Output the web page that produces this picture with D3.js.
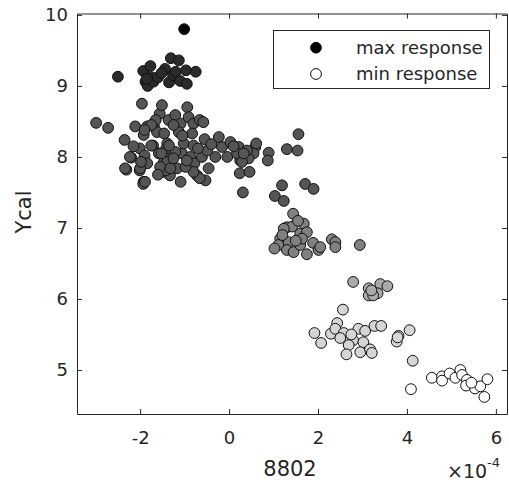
<!doctype html>
<html lang="en">
<head>
<meta charset="utf-8">
<title>Ycal vs 8802</title>
<script src="https://cdn.jsdelivr.net/npm/d3@7"></script>
<style>
  body { margin: 0; background: #fff; }
  text { font-family: "DejaVu Sans", sans-serif; fill: #262626; }
</style>
</head>
<body>
<svg id="chart" width="509" height="484"></svg>
<script>
// x values are in units of 1e-4 (the axis carries the x10^-4 multiplier)
// groups run from the max response (black) to the min response (white)
const maxGroup = [[-1.01, 9.80]];

const group1 = [
  [-2.50, 9.13], [-1.93, 9.21], [-1.88, 9.06], [-1.83, 9.00], [-1.77, 9.28],
  [-1.74, 9.12], [-1.70, 9.06], [-1.60, 9.12], [-1.44, 9.24], [-1.35, 9.05],
  [-1.31, 9.39], [-1.26, 9.15], [-1.20, 9.20], [-1.13, 9.36], [-1.10, 9.07],
  [-0.97, 9.22], [-0.95, 9.03], [-0.75, 9.20], [-1.52, 9.18], [-1.85, 9.10]
];

const group2 = [
  [-2.99, 8.48], [-2.72, 8.41], [-2.35, 8.24], [-2.11, 8.43], [-1.96, 8.75],
  [-2.20, 7.99], [-2.31, 7.82], [-2.01, 7.81], [-1.92, 7.65], [-1.93, 7.62],
  [-2.01, 8.12], [-1.92, 8.31], [-1.84, 8.43], [-1.69, 8.43], [-1.90, 8.02],
  [-1.84, 7.91], [-1.71, 8.16], [-1.56, 8.61], [-1.51, 8.73], [-1.62, 8.35],
  [-1.46, 8.33], [-1.58, 8.05], [-1.47, 7.92], [-1.48, 7.79], [-1.33, 7.74],
  [-1.47, 8.05], [-1.39, 8.19], [-1.36, 8.52], [-1.21, 8.59], [-1.09, 8.47],
  [-1.13, 8.35], [-1.17, 7.84], [-1.09, 7.65], [-1.06, 8.05], [-1.02, 8.19],
  [-0.94, 8.70], [-0.91, 8.56], [-0.80, 8.47], [-0.66, 8.52], [-0.58, 8.49],
  [-0.83, 8.33], [-0.80, 8.16], [-0.87, 8.00], [-0.78, 7.91], [-0.72, 7.74],
  [-0.61, 8.00], [-0.53, 7.67], [-0.46, 7.84], [-0.31, 8.00], [-0.23, 8.28],
  [-0.16, 8.14], [-0.04, 8.00], [0.03, 8.21], [0.22, 8.14], [0.25, 7.95],
  [0.24, 7.77], [0.46, 7.79], [0.31, 7.50], [0.59, 8.14], [0.55, 8.05],
  [0.44, 7.98], [0.40, 8.09], [-1.41, 8.12], [-1.21, 8.07], [-0.49, 8.09],
  [-0.66, 7.70], [-0.80, 7.79], [-1.43, 7.81], [-1.39, 7.93], [0.18, 8.05],
  [0.61, 8.19], [0.89, 8.06], [0.87, 7.95], [0.29, 7.93], [0.33, 8.05],
  [1.56, 8.32], [1.30, 8.11], [1.54, 8.09], [1.19, 7.60], [1.03, 7.45],
  [1.23, 7.38], [1.71, 7.62], [1.90, 7.55], [-2.23, 8.00], [-2.34, 7.84],
  [-2.00, 7.84], [-1.89, 7.65], [-1.98, 7.93], [-1.75, 8.16], [-1.52, 8.05],
  [-1.55, 7.86], [-1.35, 8.16], [-1.32, 7.84], [-1.25, 8.45], [-1.65, 8.52],
  [-1.05, 8.30], [-0.98, 7.86], [-1.25, 7.98], [-0.70, 8.12], [-0.55, 8.25],
  [-0.40, 8.18], [-1.75, 8.45], [-1.60, 7.75], [-0.95, 7.95], [0.10, 8.15],
  [-2.15, 8.15], [-1.90, 8.38]
];

const group3 = [
  [1.44, 7.20], [1.30, 7.01], [1.42, 7.02], [1.23, 6.99], [1.68, 7.06],
  [1.60, 6.92], [1.75, 6.94], [1.15, 6.85], [1.11, 6.76], [1.02, 6.71],
  [1.34, 6.80], [1.30, 6.69], [1.45, 6.66], [1.60, 6.76], [1.75, 6.63],
  [1.89, 6.79], [2.01, 6.69], [2.05, 6.73], [2.31, 6.84], [2.39, 6.80],
  [2.39, 6.73], [2.94, 6.76], [1.64, 6.85], [1.50, 6.82], [1.20, 6.90],
  [1.55, 7.10]
];

const group4 = [
  [2.79, 6.24], [3.14, 6.15], [3.14, 6.05], [3.40, 6.21], [3.56, 6.18],
  [3.34, 6.08], [3.24, 6.05], [3.20, 6.12]
];

const group5 = [
  [2.56, 5.85], [1.92, 5.52], [2.07, 5.38], [2.29, 5.51], [2.43, 5.66],
  [2.39, 5.58], [2.58, 5.52], [2.79, 5.42], [2.69, 5.35], [2.64, 5.22],
  [2.91, 5.58], [3.06, 5.55], [3.02, 5.39], [2.95, 5.25], [3.17, 5.29],
  [3.21, 5.24], [3.27, 5.62], [3.42, 5.62], [3.81, 5.48], [3.77, 5.40],
  [4.06, 5.56], [3.79, 5.46], [4.13, 5.13], [2.50, 5.45], [2.75, 5.50]
];

const minGroup = [
  [4.09, 4.73], [4.56, 4.89], [4.79, 4.91], [4.79, 4.85], [4.96, 4.95],
  [5.09, 4.89], [5.20, 5.00], [5.24, 4.93], [5.35, 4.86], [5.33, 4.78],
  [5.53, 4.74], [5.65, 4.77], [5.81, 4.87], [5.74, 4.62], [5.45, 4.82]
];

const groups = [maxGroup, group1, group2, group3, group4, group5, minGroup];
const xTicks = [-2, 0, 2, 4, 6];
const yTicks = [5, 6, 7, 8, 9, 10];
const legendLabels = ["max response", "min response"];
const xLabel = "8802";
const yLabel = "Ycal";

const svg = d3.select("#chart");
const ink = "#262626";

const x = d3.scaleLinear().domain([-3.42, 6.25]).range([77, 507]);
const y = d3.scaleLinear().domain([4.38, 10.02]).range([414, 13.5]);
const shade = d3.scaleLinear().domain([0, groups.length - 1]).range(["#000000", "#ffffff"]);

// box with inward ticks on all four sides
function styleAxis(g) {
  g.attr("color", ink).attr("font-size", 18).attr("font-family", "DejaVu Sans, sans-serif");
  g.selectAll("text").attr("fill", ink);
}
svg.append("g").attr("transform", `translate(0,${y.range()[0]})`)
  .call(d3.axisBottom(x).tickValues(xTicks).tickFormat(d => String(d)).tickSize(-5).tickSizeOuter(0).tickPadding(17))
  .call(styleAxis);
svg.append("g").attr("transform", `translate(0,${y.range()[1]})`)
  .call(d3.axisTop(x).tickValues(xTicks).tickFormat("").tickSize(-5).tickSizeOuter(0))
  .call(styleAxis);
svg.append("g").attr("transform", `translate(${x.range()[0]},0)`)
  .call(d3.axisLeft(y).tickValues(yTicks).tickFormat(d => String(d)).tickSize(-5).tickSizeOuter(0).tickPadding(9))
  .call(styleAxis);
svg.append("g").attr("transform", `translate(${x.range()[1]},0)`)
  .call(d3.axisRight(y).tickValues(yTicks).tickFormat("").tickSize(-5).tickSizeOuter(0))
  .call(styleAxis);

// points
groups.forEach((pts, i) => {
  svg.append("g").selectAll("circle").data(pts).enter().append("circle")
    .attr("cx", d => x(d[0]))
    .attr("cy", d => y(d[1]))
    .attr("r", 5.4)
    .attr("fill", shade(i))
    .attr("stroke", "#111")
    .attr("stroke-width", 1);
});

// axis labels
svg.append("text").attr("x", 290).attr("y", 476).attr("text-anchor", "middle")
  .attr("font-size", 21).text(xLabel);
svg.append("text").attr("transform", "translate(31,212) rotate(-90)").attr("text-anchor", "middle")
  .attr("font-size", 21).text(yLabel);
const mult = svg.append("text").attr("x", 447).attr("y", 478).attr("font-size", 19);
mult.append("tspan").text("\u00d710");
mult.append("tspan").attr("dy", -11).attr("font-size", 13).text("-4");

// legend
const legend = svg.append("g");
legend.append("rect").attr("x", 273.5).attr("y", 30.5).attr("width", 216).attr("height", 58)
  .attr("fill", "#fff").attr("stroke", ink).attr("stroke-width", 1);
const legendShades = [shade(0), shade(groups.length - 1)];
legendLabels.forEach((lab, i) => {
  const cy = 47.7 + i * 26.3;
  legend.append("circle").attr("cx", 316).attr("cy", cy).attr("r", 5.4)
    .attr("fill", legendShades[i]).attr("stroke", "#111");
  legend.append("text").attr("x", 356).attr("y", cy + 6).attr("font-size", 18).text(lab);
});
</script>
</body>
</html>
